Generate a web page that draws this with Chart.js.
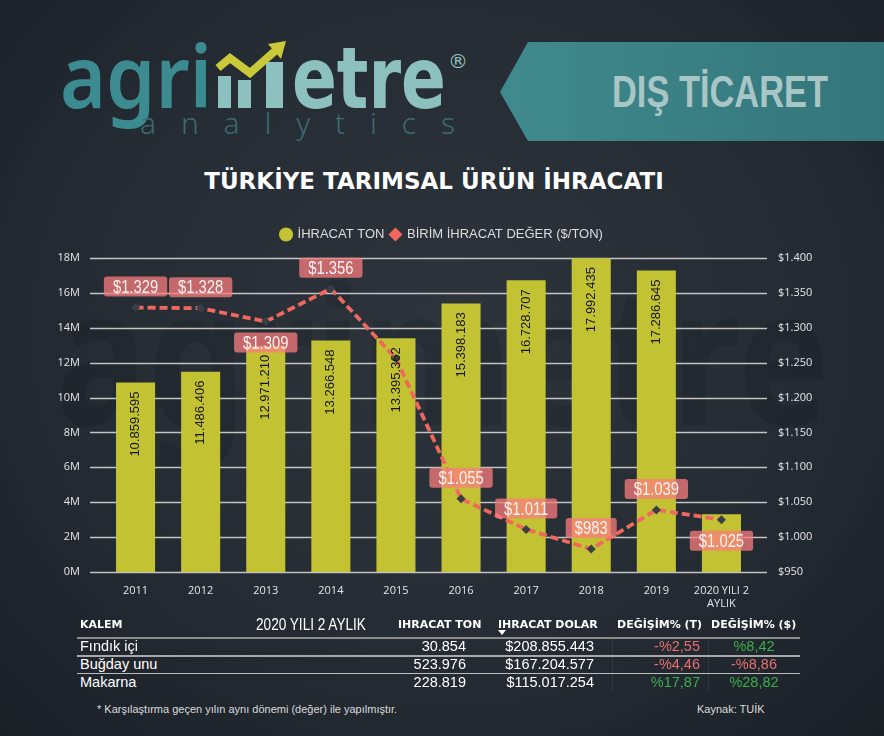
<!DOCTYPE html>
<html>
<head>
<meta charset="utf-8">
<script src="https://cdn.jsdelivr.net/npm/chart.js@4.4.1/dist/chart.umd.min.js"></script>
<style>
  html, body { margin: 0; padding: 0; }
  body {
    width: 884px; height: 736px; overflow: hidden; position: relative;
    background: radial-gradient(ellipse at 50% 45%, #2d343c 0%, #252c34 55%, #1b2027 100%);
    font-family: "Liberation Sans", Arial, sans-serif; color: #fff;
  }
  #head, #mark { position: absolute; left: 0; top: 0; }
  #title {
    position: absolute; left: 0; width: 868px; top: 168px; text-align: center;
    font: bold 23px "DejaVu Sans", sans-serif; color: #fff;
  }
  #chartBox { position: absolute; left: 0; top: 200px; width: 884px; height: 420px; }
  .cell { position: absolute; white-space: nowrap; }
  .hd { font: bold 11px "DejaVu Sans", sans-serif; color: #fff; top: 618px; }
  .row { font-size: 14.5px; color: #fff; }
  .neg { color: #e86f6f; }
  .pos { color: #3cae4a; }
  .rule { position: absolute; left: 77px; width: 723px; }
  .note { position: absolute; top: 703px; font-size: 11px; color: #dcdcdc; }
</style>
</head>
<body>
<svg id="mark" width="884" height="736">
  <text x="55" y="425" font-family="Noto Sans" font-weight="bold" font-size="190" fill="#000" fill-opacity="0.1" textLength="775" lengthAdjust="spacingAndGlyphs">agrimetre</text>
</svg>
<svg id="head" width="884" height="160">
  <defs>
    <linearGradient id="bn" x1="0" x2="1" y1="0" y2="0">
      <stop offset="0" stop-color="#408a8d"/>
      <stop offset="1" stop-color="#33757a"/>
    </linearGradient>
  </defs>
  <polygon points="500,92 528,42 884,42 884,141 528,141" fill="url(#bn)"/>
  <text x="612" y="107" font-family="Liberation Sans, Arial, sans-serif" font-weight="bold" font-size="44" fill="#a8c6c5" textLength="216" lengthAdjust="spacingAndGlyphs">DIŞ TİCARET</text>
  <text x="60" y="108" font-family="Noto Sans" font-weight="600" font-size="86" fill="#3c8b91" textLength="152" lengthAdjust="spacingAndGlyphs">agri</text>
  <rect x="218" y="76" width="13" height="32" fill="#8dc1c0"/>
  <rect x="238" y="80" width="13" height="28" fill="#8dc1c0"/>
  <rect x="266" y="62" width="17" height="46" fill="#8dc1c0"/>
  <polyline points="218,68 230,58 250,73 275,51" stroke="#c9c93a" stroke-width="8" fill="none" stroke-linejoin="miter"/>
  <polygon points="268,44 286,41 281,59" fill="#c9c93a"/>
  <text x="292" y="108" font-family="DejaVu Sans" font-weight="bold" font-size="86" fill="#8dc1c0" textLength="154" lengthAdjust="spacingAndGlyphs">etre</text>
  <text x="448" y="68" font-family="DejaVu Sans" font-size="20" fill="#8dc1c0">®</text>
  <text x="140" y="134" font-family="Noto Sans" font-weight="300" font-size="30" fill="#3a6a6f" textLength="315" lengthAdjust="spacing">analytics</text>
</svg>

<div id="title">TÜRKİYE TARIMSAL ÜRÜN İHRACATI</div>
<div id="chartBox"><canvas id="chart"></canvas></div>

<div id="table"></div>
<div class="note" style="left:97px">* Karşılaştırma geçen yılın aynı dönemi (değer) ile yapılmıştır.</div>
<div class="note" style="left:697px">Kaynak: TUİK</div>

<script>
// chart data
const years = ['2011', '2012', '2013', '2014', '2015', '2016', '2017', '2018', '2019', ['2020 YILI 2', 'AYLIK']];
const exportTon = [10859595, 11486406, 12971210, 13266548, 13395362, 15398183, 16728707, 17992435, 17286645, 3310000];
const unitPrice = [1329, 1328, 1309, 1356, 1256, 1055, 1011, 983, 1039, 1025];
// where each price label sits: above / below the point, or hidden
const priceLabelSide = ['up', 'up', 'down', 'up', 'none', 'up', 'up', 'up', 'up', 'down'];

// table data
const tableItems = ['Fındık içi', 'Buğday unu', 'Makarna'];
const tableTon = ['30.854', '523.976', '228.819'];
const tableDollar = ['$208.855.443', '$167.204.577', '$115.017.254'];
const changeTon = ['-%2,55', '-%4,46', '%17,87'];
const changeDollar = ['%8,42', '-%8,86', '%28,82'];

const fmtDot = v => Math.round(v).toLocaleString('de-DE');

// table
let table = document.getElementById('table');
let html = '';
html += '<div class="cell hd" style="left:80px">KALEM</div>';
html += '<div class="cell" style="left:256px;top:615px;font:17px \'Liberation Sans\',Arial,sans-serif;color:#fff;transform:scaleX(0.8);transform-origin:0 0">2020 YILI 2 AYLIK</div>';
html += '<div class="cell hd" style="left:398px">IHRACAT TON</div>';
html += '<div class="cell hd" style="left:498px">IHRACAT DOLAR</div>';
html += '<div class="cell" style="left:498px;top:630px;width:0;height:0;border-left:4px solid transparent;border-right:4px solid transparent;border-top:5px solid #fff"></div>';
html += '<div class="cell hd" style="left:617px">DEĞİŞİM% (T)</div>';
html += '<div class="cell hd" style="left:711px">DEĞİŞİM% ($)</div>';
html += '<div class="rule" style="top:637px;height:2px;background:#8c8c8c"></div>';
html += '<div class="rule" style="top:655px;height:2px;background:#a8a8a8"></div>';
html += '<div class="rule" style="top:673px;height:1px;background:#bdbdbd"></div>';
html += '<div class="cell" style="left:612px;top:639px;width:1px;height:52px;background:rgba(255,255,255,0.08)"></div>';
html += '<div class="cell" style="left:708px;top:639px;width:1px;height:52px;background:rgba(255,255,255,0.08)"></div>';
tableItems.forEach((name, i) => {
  let top = 638 + i * 18;
  html += '<div class="cell row" style="left:80px;top:' + top + 'px">' + name + '</div>';
  html += '<div class="cell row" style="right:' + (884 - 466) + 'px;top:' + top + 'px">' + tableTon[i] + '</div>';
  html += '<div class="cell row" style="right:' + (884 - 594) + 'px;top:' + top + 'px">' + tableDollar[i] + '</div>';
  let c1 = changeTon[i].startsWith('-') ? 'neg' : 'pos';
  let c2 = changeDollar[i].startsWith('-') ? 'neg' : 'pos';
  html += '<div class="cell row ' + c1 + '" style="right:' + (884 - 700) + 'px;top:' + top + 'px">' + changeTon[i] + '</div>';
  html += '<div class="cell row ' + c2 + '" style="left:714px;width:80px;text-align:center;top:' + top + 'px">' + changeDollar[i] + '</div>';
});
table.innerHTML = html;

// horizontal grid lines, a bit wider than the category area
const gridPlugin = {
  id: 'wideGrid',
  beforeDatasetsDraw(chart) {
    const ctx = chart.ctx;
    const y = chart.scales.y;
    const area = chart.chartArea;
    ctx.save();
    ctx.strokeStyle = '#c4c4c4';
    ctx.lineWidth = 1.3;
    y.ticks.forEach((t, i) => {
      const py = Math.round(y.getPixelForTick(i)) + 0.5;
      ctx.beginPath();
      ctx.moveTo(area.left - 13, py);
      ctx.lineTo(area.right + 13, py);
      ctx.stroke();
    });
    ctx.restore();
  }
};

// extra space between the legend and the plot
const legendGap = {
  id: 'legendGap',
  beforeInit(chart) {
    const fit = chart.legend.fit;
    chart.legend.fit = function () {
      fit.bind(chart.legend)();
      this.height += 7;
    };
  }
};

function roundRect(ctx, x, y, w, h, r) {
  ctx.beginPath();
  ctx.moveTo(x + r, y);
  ctx.lineTo(x + w - r, y);
  ctx.quadraticCurveTo(x + w, y, x + w, y + r);
  ctx.lineTo(x + w, y + h - r);
  ctx.quadraticCurveTo(x + w, y + h, x + w - r, y + h);
  ctx.lineTo(x + r, y + h);
  ctx.quadraticCurveTo(x, y + h, x, y + h - r);
  ctx.lineTo(x, y + r);
  ctx.quadraticCurveTo(x, y, x + r, y);
  ctx.closePath();
}

const labelPlugin = {
  id: 'valueLabels',
  afterDatasetsDraw(chart) {
    const ctx = chart.ctx;
    ctx.save();
    // bar values, rotated inside the bar
    ctx.font = '13px "Liberation Sans", Arial, sans-serif';
    ctx.fillStyle = '#161616';
    ctx.textAlign = 'right';
    ctx.textBaseline = 'middle';
    chart.getDatasetMeta(0).data.forEach((bar, i) => {
      const txt = fmtDot(exportTon[i]);
      const w = ctx.measureText(txt).width;
      if (bar.base - bar.y < w + 20) return;
      ctx.save();
      ctx.translate(bar.x, bar.y + 9);
      ctx.rotate(-Math.PI / 2);
      ctx.fillText(txt, 0, 0);
      ctx.restore();
    });
    // price labels in boxes, narrow text
    ctx.font = '19px "Liberation Sans", Arial, sans-serif';
    ctx.textAlign = 'center';
    const squeeze = 0.78;
    chart.getDatasetMeta(1).data.forEach((pt, i) => {
      const side = priceLabelSide[i];
      if (side === 'none') return;
      const txt = '$' + fmtDot(unitPrice[i]);
      const w = ctx.measureText(txt).width * squeeze + 18;
      const h = 20;
      const cy = pt.y + (side === 'up' ? -21 : 21);
      ctx.fillStyle = 'rgba(250, 124, 126, 0.75)';
      roundRect(ctx, pt.x - w / 2, cy - h / 2, w, h, 3);
      ctx.fill();
      ctx.save();
      ctx.translate(pt.x, cy + 1);
      ctx.scale(squeeze, 1);
      ctx.fillStyle = '#fbf1f1';
      ctx.fillText(txt, 0, 0);
      ctx.restore();
    });
    ctx.restore();
  }
};

const tickFont = { family: '"Open Sans", sans-serif', size: 11 };

new Chart(document.getElementById('chart'), {
  data: {
    labels: years,
    datasets: [
      {
        type: 'bar',
        label: 'İHRACAT TON',
        data: exportTon,
        yAxisID: 'y',
        backgroundColor: '#c2c232',
        barPercentage: 0.6,
        categoryPercentage: 1,
        pointStyle: 'circle',
        order: 2
      },
      {
        type: 'line',
        label: 'BİRİM İHRACAT DEĞER ($/TON)',
        data: unitPrice,
        yAxisID: 'y1',
        borderColor: '#f0685d',
        backgroundColor: '#f0685d',
        borderWidth: 3.8,
        borderDash: [8, 4],
        tension: 0,
        pointStyle: 'rectRot',
        pointRadius: 4.5,
        pointBorderWidth: 0,
        pointBackgroundColor: '#3a3f45',
        order: 1
      }
    ]
  },
  options: {
    responsive: true,
    maintainAspectRatio: false,
    animation: false,
    layout: { padding: { top: 22, bottom: 8, left: 0, right: 0 } },
    plugins: {
      tooltip: { enabled: false },
      legend: {
        position: 'top',
        labels: {
          color: '#dedede',
          font: { family: '"Liberation Sans", Arial, sans-serif', size: 13 },
          usePointStyle: true,
          boxWidth: 10,
          boxHeight: 10,
          padding: 6,
          sort: (a, b) => a.datasetIndex - b.datasetIndex,
          generateLabels(chart) {
            const items = Chart.defaults.plugins.legend.labels.generateLabels(chart);
            items.forEach(it => {
              const ds = chart.data.datasets[it.datasetIndex];
              it.fillStyle = ds.type === 'line' ? ds.borderColor : ds.backgroundColor;
              it.strokeStyle = it.fillStyle;
              it.lineWidth = 0;
              it.lineDash = [];
            });
            return items;
          }
        }
      }
    },
    scales: {
      x: {
        grid: { display: false, drawTicks: false },
        border: { display: false },
        ticks: { color: '#e6e6e6', font: tickFont, padding: 12, maxRotation: 0, autoSkip: false },
        afterFit(axis) { axis.height = 40; }
      },
      y: {
        position: 'left',
        min: 0,
        max: 18000000,
        grid: { display: false, drawTicks: false },
        border: { display: false },
        ticks: {
          stepSize: 2000000,
          color: '#e6e6e6',
          font: tickFont,
          padding: 23,
          callback: v => (v / 1000000) + 'M'
        },
        afterFit(axis) { axis.width = 103; }
      },
      y1: {
        position: 'right',
        min: 950,
        max: 1400,
        grid: { display: false, drawTicks: false },
        border: { display: false },
        ticks: {
          stepSize: 50,
          color: '#e6e6e6',
          font: tickFont,
          padding: 24,
          callback: v => '$' + fmtDot(v)
        },
        afterFit(axis) { axis.width = 130; }
      }
    }
  },
  plugins: [gridPlugin, labelPlugin, legendGap]
});
</script>
</body>
</html>
